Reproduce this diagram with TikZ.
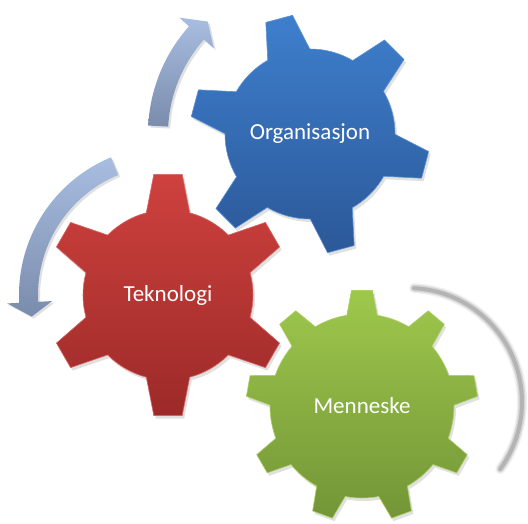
\documentclass[tikz,border=0pt]{standalone}
\usepackage{fontspec}
\setmainfont{Carlito}
\definecolor{orgtop}{HTML}{3E7FCD}
\definecolor{orgbot}{HTML}{2B5898}
\definecolor{tektop}{HTML}{CE413E}
\definecolor{tekbot}{HTML}{9C2A28}
\definecolor{mentop}{HTML}{9EC84C}
\definecolor{menbot}{HTML}{739537}
\definecolor{turntop}{HTML}{A8BDE1}
\definecolor{turnbot}{HTML}{7A8CAC}
% teeth-1, pitch, phase, body r, tip r, base half angle, tip half angle
\newcommand{\gearpath}[7]{%
  ({#3-#6}:#4) \foreach \k in {0,...,#1} {
    -- ({#3+\k*#2-#7}:#5) -- ({#3+\k*#2+#7}:#5) -- ({#3+\k*#2+#6}:#4)
    arc[start angle={#3+\k*#2+#6}, end angle={#3+(\k+1)*#2-#6}, radius=#4]
  } -- cycle}
\tikzset{
  {gear label/.style} ={text=white, font=\fontsize{23}{27}\selectfont},
  {gear shadow/.style} ={fill=black, opacity=.12},
  {org gear/.style} ={top color=orgtop, bottom color=orgbot,
                      draw=orgtop!85!white, line width=.6},
  {tek gear/.style} ={top color=tektop, bottom color=tekbot,
                      draw=tektop!80!white, line width=.6},
  {men gear/.style} ={top color=mentop, bottom color=menbot,
                      draw=mentop!85!white, line width=.6},
  {turn arrow/.style} ={top color=turntop, bottom color=turnbot},
  {spin arc/.style} ={draw=black!40, line cap=round},
}

\begin{document}
\begin{tikzpicture}[x=1pt,y=1pt]
    \useasboundingbox (0,0) rectangle (528,-523);
    \coordinate (orghub) at (310,-134);
    \coordinate (tekhub) at (168,-295);
    \coordinate (menhub) at (362,-406);
    \coordinate (spin) at (408,-402);

    % curved arrows
    \begin{scope}[shift={(orghub)}]
      \fill[gear shadow,shift={(2,-2)}] (177:162) arc[start angle=177, end angle=138.3, radius=162]
        -- (138.3:175) -- (132.3:152) -- (138.3:129) -- (138.3:142)
        arc[start angle=138.3, end angle=177, radius=142] -- cycle;
      \path[turn arrow] (177:162) arc[start angle=177, end angle=138.3, radius=162]
        -- (138.3:175) -- (132.3:152) -- (138.3:129) -- (138.3:142)
        arc[start angle=138.3, end angle=177, radius=142] -- cycle;
    \end{scope}
    \begin{scope}[shift={(tekhub)}]
      \fill[gear shadow,shift={(2,-2)}] (112.5:149) arc[start angle=112.5, end angle=183, radius=149]
        -- (183:161) -- (189:138) -- (183:116) -- (183:130)
        arc[start angle=183, end angle=112.5, radius=130] -- cycle;
      \path[turn arrow] (112.5:149) arc[start angle=112.5, end angle=183, radius=149]
        -- (183:161) -- (189:138) -- (183:116) -- (183:130)
        arc[start angle=183, end angle=112.5, radius=130] -- cycle;
    \end{scope}
    \foreach \w/\o in {10/.15, 7/.3, 4/.55}
      \draw[spin arc, line width=\w, opacity=\o] (spin) ++(87:114)
        arc[start angle=87, end angle=-36, radius=114];

    % gears
    \begin{scope}[shift={(orghub)}]
      \fill[gear shadow,shift={(2,-3)}] \gearpath{5}{60}{105}{85}{120}{14.8}{6.6};
      \path[org gear] \gearpath{5}{60}{105}{85}{120}{14.8}{6.6};
    \end{scope}
    \begin{scope}[shift={(tekhub)}]
      \fill[gear shadow,shift={(2,-3)}] \gearpath{5}{60}{90}{85}{121.5}{14.8}{6.7};
      \path[tek gear] \gearpath{5}{60}{90}{85}{121.5}{14.8}{6.7};
    \end{scope}
    \begin{scope}[shift={(menhub)}]
      \fill[gear shadow,shift={(2,-3)}] \gearpath{8}{40}{90}{92}{116}{9.5}{5.2};
      \path[men gear] \gearpath{8}{40}{90}{92}{116}{9.5}{5.2};
    \end{scope}

    \node[gear label] (org) at (orghub) {Organisasjon};
    \node[gear label] (tek) at (tekhub) {Teknologi};
    \node[gear label] (men) at (menhub) {Menneske};
\end{tikzpicture}
\end{document}
